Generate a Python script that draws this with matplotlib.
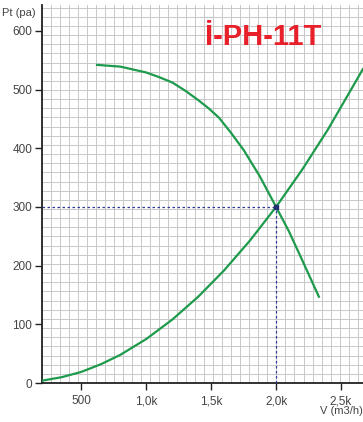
import numpy as np
import matplotlib.pyplot as plt

plt.rcParams['font.family'] = ['Liberation Sans', 'DejaVu Sans']

# fan curve
fan_v = [620, 800, 1000, 1100, 1200, 1300, 1400, 1480, 1560, 1650, 1750, 1875, 2000, 2100, 2200, 2330]
fan_p = [542, 539, 529, 521, 512, 498, 482, 468, 452, 427, 397, 352, 300, 258, 210, 147]

# system curve
sys_v = [196, 350, 500, 650, 800, 1000, 1200, 1400, 1600, 1800, 2000, 2200, 2400, 2670]
sys_p = [4, 10, 19, 32, 48, 75, 108, 147, 192, 243, 300, 363, 432, 535]

# operating point
op_v, op_p = 2000, 300

x_ticks = [500, 1000, 1500, 2000, 2500]
x_labels = ["500", "1,0k", "1,5k", "2,0k", "2,5k"]
y_ticks = [0, 100, 200, 300, 400, 500, 600]

x_min, x_max = 196, 2670
y_min, y_max = 0, 644

green = "#1e9a4c"
navy = "#2b3a9a"
txt = "#444444"

fig = plt.figure(figsize=(3.63, 4.22), dpi=100)
ax = fig.add_axes([42 / 363, 39 / 422, 321 / 363, 378 / 422])
ax.set_xlim(x_min, x_max)
ax.set_ylim(y_min, y_max)

# background grid
for gx in np.arange(x_min, x_max, 69.5):
    ax.axvline(gx, color="#c8c8c8", lw=0.7, zorder=0)
for gy in np.arange(y_min, y_max, 15.6):
    ax.axhline(gy, color="#c8c8c8", lw=0.7, zorder=0)

ax.plot(fan_v, fan_p, color=green, lw=1.6, zorder=3)
ax.plot(sys_v, sys_p, color=green, lw=1.6, zorder=3)

ax.plot([x_min, op_v], [op_p, op_p], color=navy, lw=0.9, ls=(0, (2, 2)), zorder=4)
ax.plot([op_v, op_v], [0, op_p], color=navy, lw=0.9, ls=(0, (2, 2)), zorder=4)
ax.plot([op_v], [op_p], marker="s", ms=3.5, color="#223070", zorder=5)

for side in ["top", "right"]:
    ax.spines[side].set_visible(False)
for side in ["left", "bottom"]:
    ax.spines[side].set_linewidth(1.3)
    ax.spines[side].set_color("#222222")

ax.set_xticks(x_ticks)
ax.set_xticklabels(x_labels)
ax.set_yticks(y_ticks)
ax.tick_params(axis="both", length=5, width=1, color="#222222",
               labelsize=8.5, labelcolor=txt, pad=2)
ax.tick_params(axis="x", pad=4)

fig.text(2 / 363, 1 - 13 / 422, "Pt (pa)", fontsize=8, color=txt,
         va="center", ha="left")
fig.text(1.0, 1 - 411 / 422, "V (m3/h)", fontsize=8, color=txt,
         va="center", ha="right")

ax.text(0.688, 0.915, "İ-PH-11T", transform=ax.transAxes, fontsize=21,
        fontweight="bold", color="#e8202a",
        ha="center", va="center", zorder=6)

fig.savefig("out.png", dpi=100)
